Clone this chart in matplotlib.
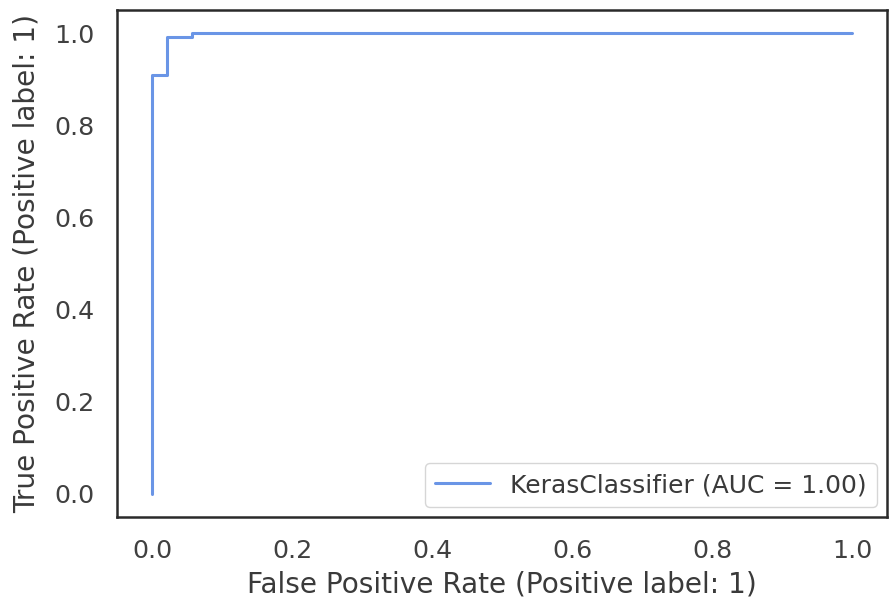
import matplotlib
matplotlib.use("Agg")
import matplotlib.pyplot as plt
import seaborn as sns

sns.set_style("white")
plt.rcParams['font.family'] = ['DejaVu Sans']

fpr = [0.0, 0.0, 0.021, 0.021, 0.057, 0.057, 1.0]
tpr = [0.0, 0.91, 0.91, 0.991, 0.991, 1.0, 1.0]
label = "KerasClassifier (AUC = 1.00)"

fig = plt.figure(figsize=(8.9, 6.03), dpi=100)
ax = fig.add_axes([117/890, 1 - 517/603, (887-117)/890, (517-10)/603])
ax.plot(fpr, tpr, color="#6A95E6", lw=2.2, label=label)
ax.set_xlabel("False Positive Rate (Positive label: 1)", fontsize=20.2, color="#3a3a3a", labelpad=5)
ax.set_ylabel("True Positive Rate (Positive label: 1)", fontsize=20.2, color="#3a3a3a", labelpad=10)
ax.tick_params(labelsize=18.2, colors="#404040", pad=12.5)
for s in ax.spines.values():
    s.set_color("#2a2a2a")
    s.set_linewidth(1.8)
leg = ax.legend(loc="lower right", fontsize=18, frameon=True, handlelength=2.2,
                borderaxespad=0.4)
for t in leg.get_texts():
    t.set_color("#3a3a3a")
fig.savefig("out.png", dpi=100)
